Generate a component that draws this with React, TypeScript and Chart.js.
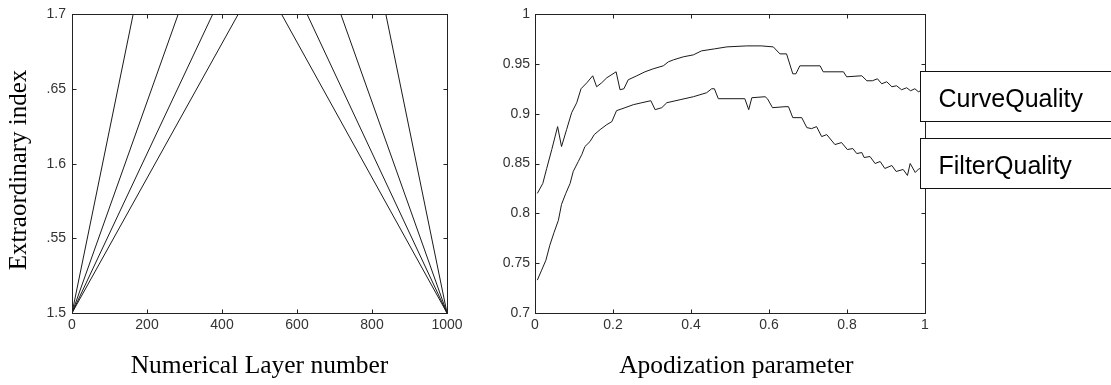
import React, { useEffect, useRef } from "react";
import { Chart, registerables } from "chart.js";

Chart.register(...registerables);

// ---------- Left panel data ----------
const indexMin = 1.5;
const indexMax = 1.7;
const layerMin = 0;
const layerMax = 1000;
// layer number where the rising lines reach the top index
const riseEndLayer = [163, 283, 375, 443];
// layer number where the falling lines leave the top index
const fallStartLayer = [559, 627, 717, 837];
const leftXTickLabels = ["0", "200", "400", "600", "800", "1000"];
const leftYTickLabels = ["1.5", ".55", "1.6", ".65", "1.7"];

// ---------- Right panel data ----------
const curveX = [
  0.006, 0.02, 0.03, 0.043, 0.058, 0.068, 0.081, 0.094, 0.107, 0.118, 0.133, 0.148, 0.158, 0.171, 0.184,
  0.208, 0.218, 0.228, 0.239, 0.261, 0.282, 0.303, 0.329, 0.342, 0.355, 0.38, 0.406, 0.427, 0.46, 0.492,
  0.543, 0.58, 0.611, 0.628, 0.645, 0.661, 0.669, 0.679, 0.731, 0.739, 0.791, 0.799, 0.838, 0.851, 0.865,
  0.878, 0.889, 0.902, 0.915, 0.927, 0.94, 0.953, 0.963, 0.974, 0.983, 0.995, 1.0,
];
const curveQuality = [
  0.82, 0.83, 0.845, 0.864, 0.887, 0.867, 0.884, 0.901, 0.911, 0.925, 0.931, 0.938, 0.927, 0.931, 0.936,
  0.942, 0.924, 0.925, 0.934, 0.938, 0.942, 0.945, 0.948, 0.952, 0.954, 0.957, 0.959, 0.963, 0.965, 0.967,
  0.968, 0.968, 0.967, 0.96, 0.96, 0.94, 0.94, 0.948, 0.948, 0.942, 0.942, 0.937, 0.938, 0.933, 0.933,
  0.935, 0.93, 0.932, 0.927, 0.928, 0.924, 0.926, 0.923, 0.925, 0.922, 0.924, 0.922,
];
const filterX = [
  0.006, 0.017, 0.028, 0.038, 0.049, 0.06, 0.068, 0.079, 0.09, 0.098, 0.111, 0.12, 0.128, 0.141, 0.152,
  0.167, 0.184, 0.197, 0.209, 0.231, 0.252, 0.274, 0.297, 0.308, 0.325, 0.338, 0.372, 0.406, 0.44, 0.453,
  0.46, 0.47, 0.538, 0.548, 0.556, 0.59, 0.596, 0.609, 0.641, 0.65, 0.661, 0.684, 0.697, 0.709, 0.722,
  0.735, 0.748, 0.769, 0.786, 0.801, 0.815, 0.825, 0.838, 0.844, 0.859, 0.872, 0.885, 0.897, 0.915, 0.926,
  0.944, 0.955, 0.962, 0.975, 0.985, 1.0,
];
const filterQuality = [
  0.733, 0.743, 0.753, 0.768, 0.781, 0.793, 0.809, 0.82, 0.83, 0.842, 0.852, 0.859, 0.867, 0.872, 0.879,
  0.884, 0.889, 0.892, 0.903, 0.906, 0.909, 0.911, 0.913, 0.904, 0.906, 0.911, 0.914, 0.917, 0.921, 0.925,
  0.925, 0.915, 0.915, 0.904, 0.916, 0.917, 0.915, 0.906, 0.907, 0.907, 0.896, 0.896, 0.886, 0.885, 0.887,
  0.877, 0.879, 0.869, 0.871, 0.864, 0.865, 0.86, 0.861, 0.856, 0.857, 0.85, 0.852, 0.845, 0.848, 0.842,
  0.844, 0.838, 0.85, 0.841, 0.845, 0.84,
];
const rightXTickLabels = ["0", "0.2", "0.4", "0.6", "0.8", "1"];
const rightYTickLabels = ["0.7", "0.75", "0.8", "0.85", "0.9", "0.95", "1"];
const legendLabels = ["CurveQuality", "FilterQuality"];

// ---------- styling ----------
const LINE = "#1a1a1a";
const TICK_FONT = { family: "'Liberation Sans', Arial, sans-serif", size: 14 };
const TITLE_FONT = { family: "'Liberation Serif', 'Times New Roman', serif", size: 25.5 };

const framePlugin = {
  id: "matlabFrame",
  afterDatasetsDraw(chart: any) {
    const { ctx, chartArea: a, scales } = chart;
    const L = Math.round(a.left) + 0.5;
    const R = Math.round(a.right) + 0.5;
    const T = Math.round(a.top) + 0.5;
    const B = Math.round(a.bottom) + 0.5;
    const tl = 4;
    ctx.save();
    ctx.strokeStyle = "#222";
    ctx.lineWidth = 1;
    ctx.strokeRect(L, T, R - L, B - T);
    ctx.beginPath();
    scales.x.ticks.forEach((t: any) => {
      const px = Math.round(scales.x.getPixelForValue(t.value)) + 0.5;
      if (px <= L + 1 || px >= R - 1) return;
      ctx.moveTo(px, B);
      ctx.lineTo(px, B - tl);
      ctx.moveTo(px, T);
      ctx.lineTo(px, T + tl);
    });
    scales.y.ticks.forEach((t: any) => {
      const py = Math.round(scales.y.getPixelForValue(t.value)) + 0.5;
      if (py <= T + 1 || py >= B - 1) return;
      ctx.moveTo(L, py);
      ctx.lineTo(L + tl, py);
      ctx.moveTo(R, py);
      ctx.lineTo(R - tl, py);
    });
    ctx.stroke();
    ctx.restore();
  },
};

const boxLegendPlugin = {
  id: "boxLegend",
  afterDraw(chart: any, _args: any, opts: any) {
    const labels: string[] = opts && opts.labels ? opts.labels : [];
    if (!labels.length) return;
    const { ctx, chartArea: a } = chart;
    const left = Math.round(a.right) - 5 + 0.5;
    ctx.save();
    ctx.font = "25px 'Liberation Sans', Arial, sans-serif";
    ctx.textBaseline = "alphabetic";
    ctx.textAlign = "left";
    labels.forEach((lab, i) => {
      const top = Math.round(a.top) + 57 + i * 67 + 0.5;
      const h = 50;
      ctx.fillStyle = "#fff";
      ctx.fillRect(left, top, 400, h);
      ctx.strokeStyle = "#111";
      ctx.lineWidth = 1;
      ctx.strokeRect(left, top, 400, h);
      ctx.fillStyle = "#000";
      ctx.fillText(lab, left + 18, top + 35);
    });
    ctx.restore();
  },
};

function axisBase(labels: string[], padding: number) {
  return {
    type: "linear" as const,
    grid: { display: false, drawTicks: false, tickLength: 0 },
    border: { display: false },
    ticks: {
      color: "#333",
      font: TICK_FONT,
      padding,
      autoSkip: false,
      maxRotation: 0,
      callback: (_v: any, i: number) => labels[i],
    },
  };
}

function LeftChart() {
  const ref = useRef<HTMLCanvasElement | null>(null);
  useEffect(() => {
    if (!ref.current) return;
    const datasets: any[] = [];
    riseEndLayer.forEach((end) =>
      datasets.push({
        data: [
          { x: layerMin, y: indexMin },
          { x: end, y: indexMax },
        ],
      })
    );
    fallStartLayer.forEach((start) =>
      datasets.push({
        data: [
          { x: start, y: indexMax },
          { x: layerMax, y: indexMin },
        ],
      })
    );
    datasets.forEach((d) => {
      d.borderColor = LINE;
      d.borderWidth = 1;
      d.pointRadius = 0;
      d.tension = 0;
      d.fill = false;
    });
    const chart = new Chart(ref.current, {
      type: "line",
      data: { datasets },
      options: {
        animation: false,
        responsive: false,
        devicePixelRatio: 1,
        layout: { padding: { left: 0, top: 14, right: 43, bottom: 0 } },
        plugins: { legend: { display: false }, tooltip: { enabled: false } },
        scales: {
          x: {
            ...axisBase(leftXTickLabels, 4),
            min: layerMin,
            max: layerMax,
            ticks: { ...axisBase(leftXTickLabels, 4).ticks, stepSize: 200 },
            title: {
              display: true,
              text: "Numerical Layer number",
              color: "#000",
              font: TITLE_FONT,
              padding: { top: 0, bottom: 3 },
            },
            afterFit: (s: any) => {
              s.height = 72;
            },
          },
          y: {
            ...axisBase(leftYTickLabels, 6),
            min: indexMin,
            max: indexMax,
            ticks: { ...axisBase(leftYTickLabels, 6).ticks, stepSize: 0.05 },
            title: {
              display: true,
              text: "Extraordinary index  ",
              color: "#000",
              font: { ...TITLE_FONT, size: 25 },
              padding: { top: 4, bottom: 0 },
            },
            afterFit: (s: any) => {
              s.width = 72;
            },
          },
        },
      } as any,
      plugins: [framePlugin],
    });
    return () => chart.destroy();
  }, []);
  return (
    <canvas
      ref={ref}
      width={490}
      height={385}
      style={{ position: "absolute", left: 0, top: 0, width: 490, height: 385 }}
    />
  );
}

function RightChart() {
  const ref = useRef<HTMLCanvasElement | null>(null);
  useEffect(() => {
    if (!ref.current) return;
    const curvePts = curveX.map((x, i) => ({ x, y: curveQuality[i] }));
    const filterPts = filterX.map((x, i) => ({ x, y: filterQuality[i] }));
    const chart = new Chart(ref.current, {
      type: "line",
      data: {
        datasets: [
          { label: legendLabels[0], data: curvePts, borderColor: LINE, borderWidth: 1, pointRadius: 0, tension: 0 },
          { label: legendLabels[1], data: filterPts, borderColor: LINE, borderWidth: 1, pointRadius: 0, tension: 0 },
        ],
      },
      options: {
        animation: false,
        responsive: false,
        devicePixelRatio: 1,
        layout: { padding: { left: 0, top: 14, right: 186, bottom: 0 } },
        plugins: {
          legend: { display: false },
          tooltip: { enabled: false },
          boxLegend: { labels: legendLabels },
        },
        scales: {
          x: {
            ...axisBase(rightXTickLabels, 4),
            min: 0,
            max: 1,
            ticks: { ...axisBase(rightXTickLabels, 4).ticks, stepSize: 0.2 },
            title: {
              display: true,
              text: "  Apodization parameter",
              color: "#000",
              font: TITLE_FONT,
              padding: { top: 0, bottom: 3 },
            },
            afterFit: (s: any) => {
              s.height = 72;
            },
          },
          y: {
            ...axisBase(rightYTickLabels, 5),
            min: 0.7,
            max: 1,
            ticks: { ...axisBase(rightYTickLabels, 5).ticks, stepSize: 0.05 },
            afterFit: (s: any) => {
              s.width = 45;
            },
          },
        },
      } as any,
      plugins: [framePlugin, boxLegendPlugin],
    });
    return () => chart.destroy();
  }, []);
  return (
    <canvas
      ref={ref}
      width={621}
      height={385}
      style={{ position: "absolute", left: 490, top: 0, width: 621, height: 385 }}
    />
  );
}

export default function App() {
  return (
    <div
      style={{
        position: "absolute",
        left: 0,
        top: 0,
        width: 1111,
        height: 385,
        background: "#fff",
        overflow: "hidden",
      }}
    >
      <LeftChart />
      <RightChart />
    </div>
  );
}
